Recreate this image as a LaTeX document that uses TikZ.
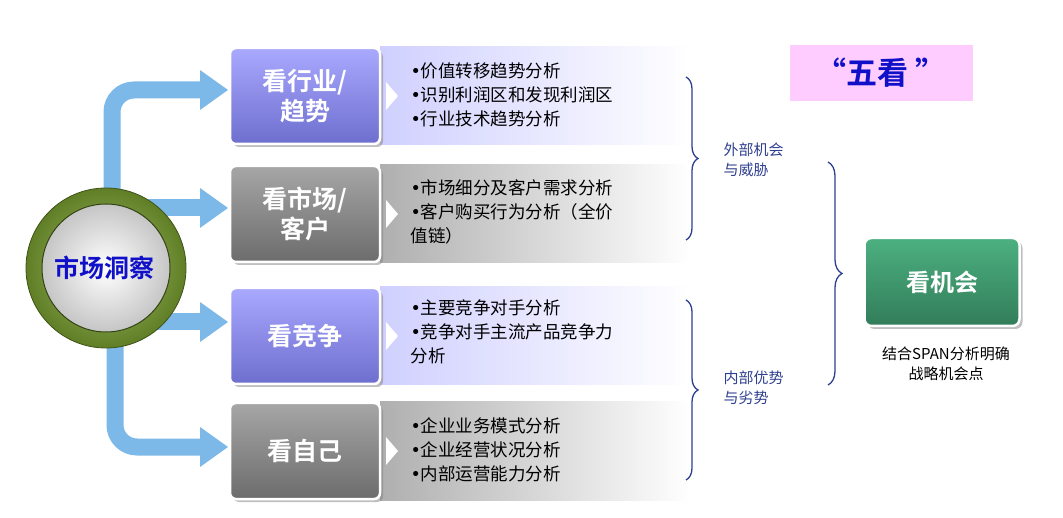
\documentclass[tikz,border=0pt]{standalone}
\usepackage{fontspec}
\setmainfont{Noto Sans CJK SC}[BoldFont={Noto Sans CJK SC Bold}]
\newfontfamily\bulf{DejaVu Sans}
\newcommand{\bl}{{\bulf •}}
\usetikzlibrary{decorations.pathreplacing,shadows}
\definecolor{arr}{HTML}{7DB9E8}
\definecolor{brc}{HTML}{2F3F8F}
\definecolor{ptop}{HTML}{A9A9FF}
\definecolor{pbot}{HTML}{6E6ECF}
\definecolor{gtop}{HTML}{A6A6A6}
\definecolor{gbot}{HTML}{6C6C6C}
\definecolor{ring}{HTML}{7FA832}
\begin{document}
\begin{tikzpicture}[x=1pt,y=-1pt,
  lbl/.style={rounded corners=6pt,draw=white,line width=2.5pt,minimum width=150pt,minimum height=96pt,text=white,font=\bfseries\fontsize{25}{30}\selectfont,align=center,drop shadow={shadow xshift=3pt,shadow yshift=-3pt,opacity=0.5}},
  plbl/.style={lbl,top color=ptop,bottom color=pbot},
  glbl/.style={lbl,top color=gtop,bottom color=gbot},
  pan/.style={minimum width=310pt,minimum height=98pt,anchor=west,inner sep=0pt},
  ppan/.style={pan,left color=ptop!55,right color=white},
  gpan/.style={pan,left color=gtop!90,right color=white},
  btxt/.style={anchor=west,font=\fontsize{17.5}{24}\selectfont,align=left,text=black},
  arrow/.style={draw=arr,line width=17pt,rounded corners=22pt},
  ahead/.style={fill=arr},
  chev/.style={fill=white},
  br/.style={draw=brc,line width=1.3pt,decorate,decoration={brace,amplitude=12pt}},
  brl/.style={font=\fontsize{15}{20}\selectfont,text=brc,align=left,anchor=west}]
\useasboundingbox (0,0) rectangle (1063,518);
% arrows
\draw[arrow] (112,230) -- (112,90) -- (205,90);
\fill[ahead] (200,70) -- (228,90) -- (200,110) -- cycle;
\draw[arrow] (140,208) -- (205,208);
\fill[ahead] (200,188) -- (228,208) -- (200,228) -- cycle;
\draw[arrow] (140,322) -- (205,322);
\fill[ahead] (200,302) -- (228,322) -- (200,342) -- cycle;
\draw[arrow] (115,300) -- (115,447) -- (205,447);
\fill[ahead] (200,427) -- (228,447) -- (200,467) -- cycle;
% circle
\node[circle,minimum size=160pt,inner sep=0pt,inner color=ring!70!white,outer color=ring!75!black,draw=ring!50!black,line width=0.8pt] (c) at (106,268) {};
\node[circle,minimum size=128pt,inner sep=0pt,inner color=white,outer color=gray!45,draw=ring!40!black,line width=1pt] (ci) at (106,268) {};
\node[font=\bfseries\fontsize{25}{30}\selectfont,text={rgb,255:red,16;green,16;blue,200}] (ct) at (104,268) {市场洞察};
% panels
\node[ppan] (p1) at (380,96) {};
\node[gpan] (p2) at (380,214) {};
\node[ppan] (p3) at (380,336) {};
\node[gpan] (p4) at (380,451) {};
\node[plbl] (l1) at (305,96) {看行业/\\趋势};
\node[glbl] (l2) at (305,214) {看市场/\\客户};
\node[plbl] (l3) at (305,336) {看竞争};
\node[glbl] (l4) at (305,451) {看自己};
\foreach \y in {96,214,336,451}{\fill[chev] (386,\y-14) -- (398,\y) -- (386,\y+14) -- cycle;}
\node[btxt] (t1) at (407,95) {\bl{}价值转移趋势分析\\\bl{}识别利润区和发现利润区\\\bl{}行业技术趋势分析};
\node[btxt] (t2) at (407,212) {\bl{}市场细分及客户需求分析\\\bl{}客户购买行为分析（全价\\值链）};
\node[btxt] (t3) at (407,332) {\bl{}主要竞争对手分析\\\bl{}竞争对手主流产品竞争力\\分析};
\node[btxt] (t4) at (407,450) {\bl{}企业业务模式分析\\\bl{}企业经营状况分析\\\bl{}内部运营能力分析};
% braces
\coordinate (b1a) at (686,77); \coordinate (b1b) at (686,240);
\draw[br] (b1a) -- (b1b);
\node[brl] (e1) at (720,160) {外部机会\\与威胁};
\coordinate (b2a) at (686,300); \coordinate (b2b) at (686,480);
\draw[br] (b2a) -- (b2b);
\node[brl] (e2) at (720,388) {内部优势\\与劣势};
\coordinate (b3a) at (828,162); \coordinate (b3b) at (828,385);
\draw[br,decoration={brace,amplitude=14pt}] (b3a) -- (b3b);
% green box
\node[rounded corners=7pt,draw=white,line width=2.5pt,top color={rgb,255:red,76;green,176;blue,128},bottom color={rgb,255:red,50;green,125;blue,90},minimum width=155pt,minimum height=88pt,text=white,font=\bfseries\fontsize{24}{29}\selectfont,drop shadow={shadow xshift=3pt,shadow yshift=-3pt,opacity=0.5}] (g) at (942,282) {看机会};
\node[font=\fontsize{15}{20}\selectfont,align=center] (gc) at (946,364) {结合SPAN分析明确\\战略机会点};
% title
\node[fill={rgb,255:red,255;green,204;blue,255},minimum width=183pt,minimum height=56pt,font=\bfseries\fontsize{31}{36}\selectfont,text={rgb,255:red,16;green,16;blue,200}] (ti) at (881,73) {“五看 ”};
\end{tikzpicture}
\end{document}
